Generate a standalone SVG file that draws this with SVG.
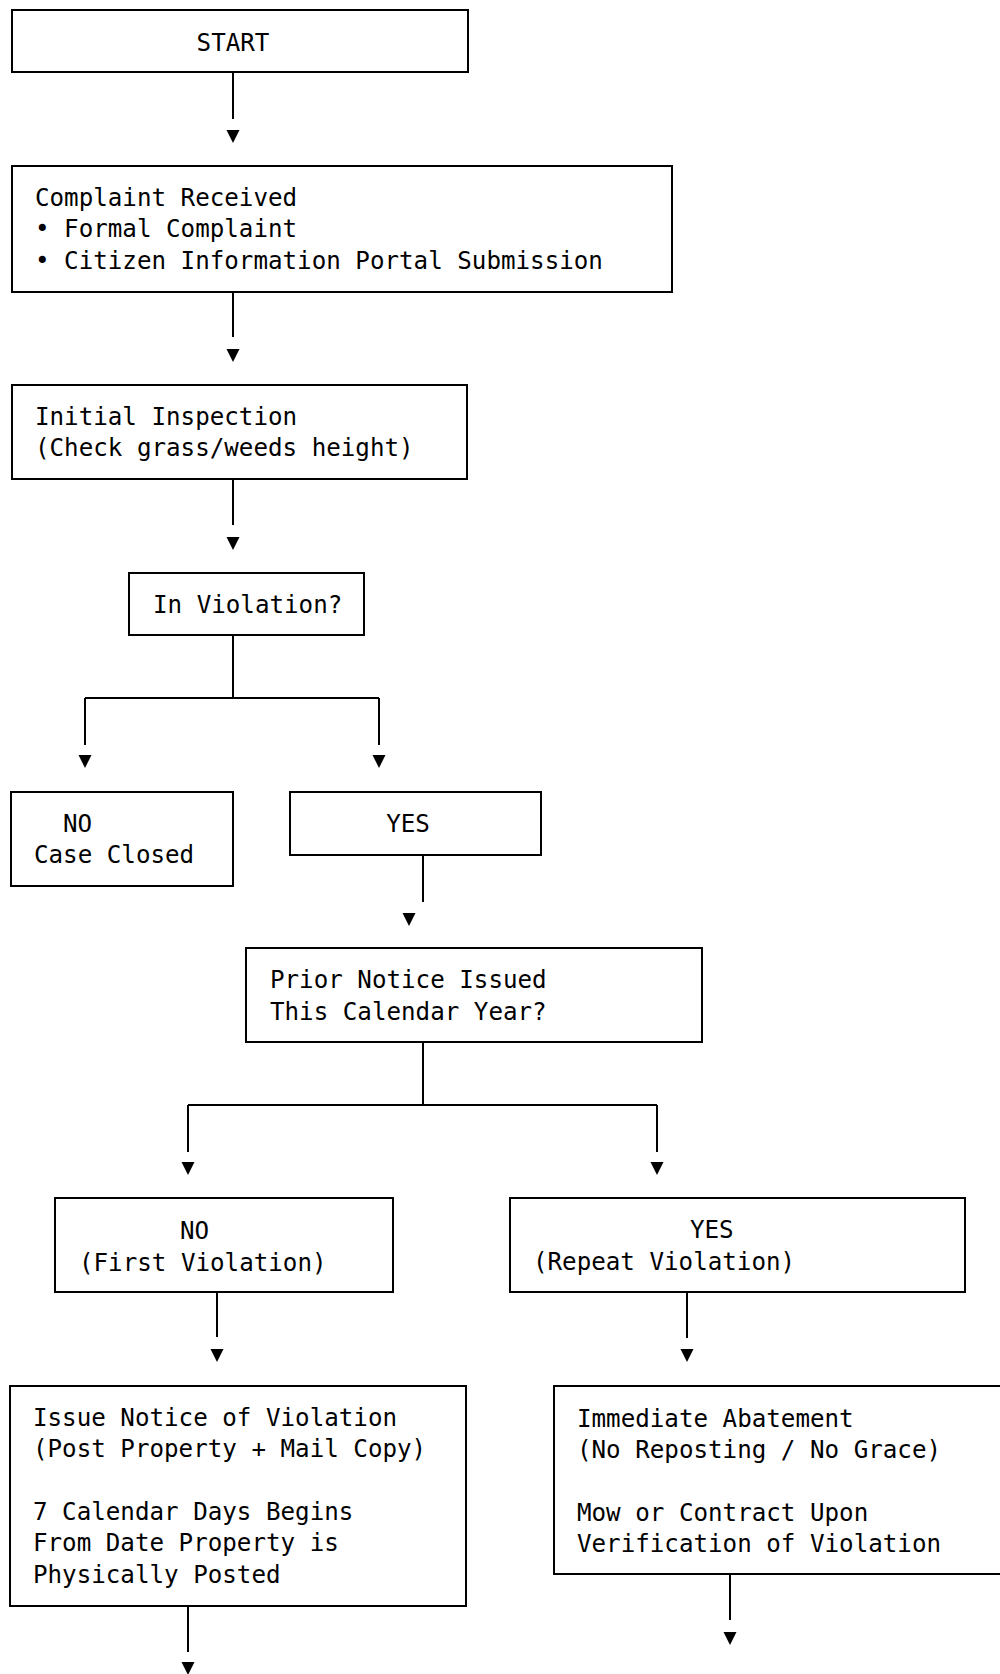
<svg xmlns="http://www.w3.org/2000/svg" xmlns:xlink="http://www.w3.org/1999/xlink" width="1000" height="1674" viewBox="0 0 1000 1674">
<style>
.box{fill:#fff;stroke:#000;stroke-width:2}
.t{font-family:"DejaVu Sans Mono","Liberation Mono",monospace;font-size:24.2px;fill:#000}
.c{fill:none;stroke:#000;stroke-width:2}
</style>
<defs>
<path id="tri" d="M-6.5,0 L6.5,0 L0,13 Z" fill="#000"/>
</defs>
<rect width="1000" height="1674" fill="#fff"/>
<g id="connectors">
<path class="c" d="M233,72 V119"/><use xlink:href="#tri" x="233" y="130"/>
<path class="c" d="M233,292 V337"/><use xlink:href="#tri" x="233" y="349"/>
<path class="c" d="M233,479 V525"/><use xlink:href="#tri" x="233" y="537"/>
<path class="c" d="M233,635 V698 M85,698 H379 M85,698 V745 M379,698 V745"/>
<use xlink:href="#tri" x="85" y="755"/><use xlink:href="#tri" x="379" y="755"/>
<path class="c" d="M423,855 V902"/><use xlink:href="#tri" x="409" y="913"/>
<path class="c" d="M423,1042 V1105 M188,1105 H657 M188,1105 V1152 M657,1105 V1152"/>
<use xlink:href="#tri" x="188" y="1162"/><use xlink:href="#tri" x="657" y="1162"/>
<path class="c" d="M217,1292 V1337"/><use xlink:href="#tri" x="217" y="1349"/>
<path class="c" d="M687,1292 V1338"/><use xlink:href="#tri" x="687" y="1349"/>
<path class="c" d="M188,1606 V1652"/><use xlink:href="#tri" x="188" y="1662"/>
<path class="c" d="M730,1574 V1620"/><use xlink:href="#tri" x="730" y="1632"/>
</g>
<g id="start">
<rect class="box" x="12" y="10" width="456" height="62"/>
<text class="t" x="233" y="51" text-anchor="middle">START</text>
</g>
<g id="complaint">
<rect class="box" x="12" y="166" width="660" height="126"/>
<text class="t" x="35" y="206">Complaint Received</text>
<text class="t" x="35" y="237">• Formal Complaint</text>
<text class="t" x="35" y="269">• Citizen Information Portal Submission</text>
</g>
<g id="inspection">
<rect class="box" x="12" y="385" width="455" height="94"/>
<text class="t" x="35" y="425">Initial Inspection</text>
<text class="t" x="35" y="456">(Check grass/weeds height)</text>
</g>
<g id="inviolation">
<rect class="box" x="129" y="573" width="235" height="62"/>
<text class="t" x="153" y="613">In Violation?</text>
</g>
<g id="no-closed">
<rect class="box" x="11" y="792" width="222" height="94"/>
<text class="t" x="63" y="832">NO</text>
<text class="t" x="34" y="863">Case Closed</text>
</g>
<g id="yes">
<rect class="box" x="290" y="792" width="251" height="63"/>
<text class="t" x="408" y="832" text-anchor="middle">YES</text>
</g>
<g id="prior">
<rect class="box" x="246" y="948" width="456" height="94"/>
<text class="t" x="270" y="988">Prior Notice Issued</text>
<text class="t" x="270" y="1020">This Calendar Year?</text>
</g>
<g id="no-first">
<rect class="box" x="55" y="1198" width="338" height="94"/>
<text class="t" x="180" y="1239">NO</text>
<text class="t" x="79" y="1271">(First Violation)</text>
</g>
<g id="yes-repeat">
<rect class="box" x="510" y="1198" width="455" height="94"/>
<text class="t" x="690" y="1238">YES</text>
<text class="t" x="533" y="1270">(Repeat Violation)</text>
</g>
<g id="issue-notice">
<rect class="box" x="10" y="1386" width="456" height="220"/>
<text class="t" x="33" y="1426">Issue Notice of Violation</text>
<text class="t" x="33" y="1457">(Post Property + Mail Copy)</text>
<text class="t" x="33" y="1520">7 Calendar Days Begins</text>
<text class="t" x="33" y="1551">From Date Property is</text>
<text class="t" x="33" y="1583">Physically Posted</text>
</g>
<g id="abatement">
<rect class="box" x="554" y="1386" width="460" height="188"/>
<text class="t" x="577" y="1427">Immediate Abatement</text>
<text class="t" x="577" y="1458">(No Reposting / No Grace)</text>
<text class="t" x="577" y="1521">Mow or Contract Upon</text>
<text class="t" x="577" y="1552">Verification of Violation</text>
</g>
</svg>
